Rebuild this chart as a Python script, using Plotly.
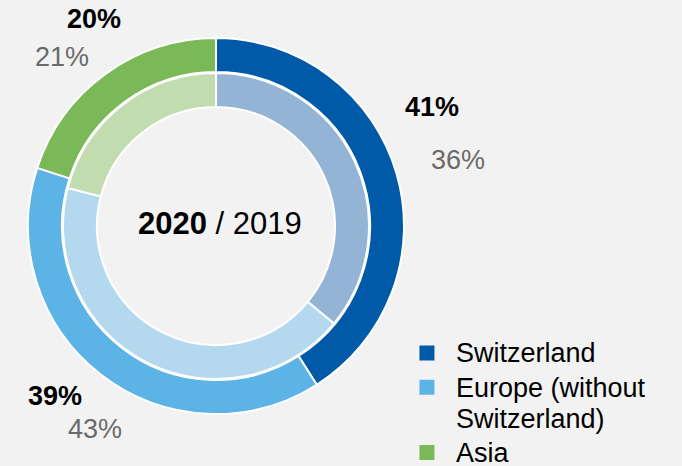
import plotly.graph_objects as go

# Regions and shares (2020 outer ring, 2019 inner ring)
regions = ["Switzerland", "Europe (without<br>Switzerland)", "Asia"]
share_2020 = [41, 39, 20]
share_2019 = [36, 43, 21]

colors_2020 = ["#005aa8", "#5bb3e6", "#7bb858"]
colors_2019 = ["#94b4d5", "#b4d9ee", "#c1dcae"]

FONT = "Liberation Sans, Arial, sans-serif"
W, H = 682, 466

fig = go.Figure()

# outer ring = 2020
fig.add_trace(go.Pie(
    values=share_2020, labels=regions, sort=False, direction="clockwise",
    rotation=0, hole=154 / 188, textinfo="none", hoverinfo="label+percent",
    marker=dict(colors=colors_2020, line=dict(color="white", width=2)),
    domain=dict(x=[(216 - 188) / W, (216 + 188) / W],
                y=[(240 - 188) / H, (240 + 188) / H]),
    showlegend=False,
))

# inner ring = 2019
fig.add_trace(go.Pie(
    values=share_2019, labels=regions, sort=False, direction="clockwise",
    rotation=0, hole=119 / 153, textinfo="none", hoverinfo="label+percent",
    marker=dict(colors=colors_2019, line=dict(color="white", width=2)),
    domain=dict(x=[(216 - 153) / W, (216 + 153) / W],
                y=[(240 - 153) / H, (240 + 153) / H]),
    showlegend=False,
))

# legend entries (square markers); bigger text than legend font -> tighter rows
for name, c in zip(regions, colors_2020):
    label = "<br>".join(f'<span style="font-size:27px">{p}</span>' for p in name.split("<br>"))
    fig.add_trace(go.Scatter(
        x=[None], y=[None], mode="markers", name=label,
        marker=dict(symbol="square", size=15, color=c),
    ))

# percentage labels: centre (x, y) in pixels from top-left for each region
label_pos_2020 = [(432, 107), (55, 396), (94, 19)]
label_pos_2019 = [(458, 160), (95, 429), (62, 57)]

for v, (x, y) in zip(share_2020, label_pos_2020):
    fig.add_annotation(x=x / W, y=1 - y / H, xref="paper", yref="paper", showarrow=False,
                       xanchor="center", yanchor="middle",
                       text=f"<b>{v}%</b>", font=dict(size=27, color="black", family=FONT))
for v, (x, y) in zip(share_2019, label_pos_2019):
    fig.add_annotation(x=x / W, y=1 - y / H, xref="paper", yref="paper", showarrow=False,
                       xanchor="center", yanchor="middle",
                       text=f"{v}%", font=dict(size=27, color="#6b6b6b", family=FONT))

fig.add_annotation(x=220 / W, y=1 - 224 / H, xref="paper", yref="paper", showarrow=False,
                   xanchor="center", yanchor="middle",
                   text="<b>2020</b> / 2019", font=dict(size=31, color="black", family=FONT))

fig.update_layout(
    width=W, height=H,
    margin=dict(l=0, r=0, t=0, b=0, autoexpand=False),
    paper_bgcolor="#f2f2f2", plot_bgcolor="#f2f2f2",
    xaxis=dict(visible=False), yaxis=dict(visible=False),
    font=dict(family=FONT),
    legend=dict(
        x=0.5835, y=0.29, xanchor="left", yanchor="top",
        font=dict(size=24, color="black", family=FONT),
        valign="top", bgcolor="rgba(0,0,0,0)", tracegroupgap=0, itemwidth=48,
    ),
)

fig.write_html("out.html", config={"displayModeBar": False},
               post_script="document.body.style.margin='0';")
